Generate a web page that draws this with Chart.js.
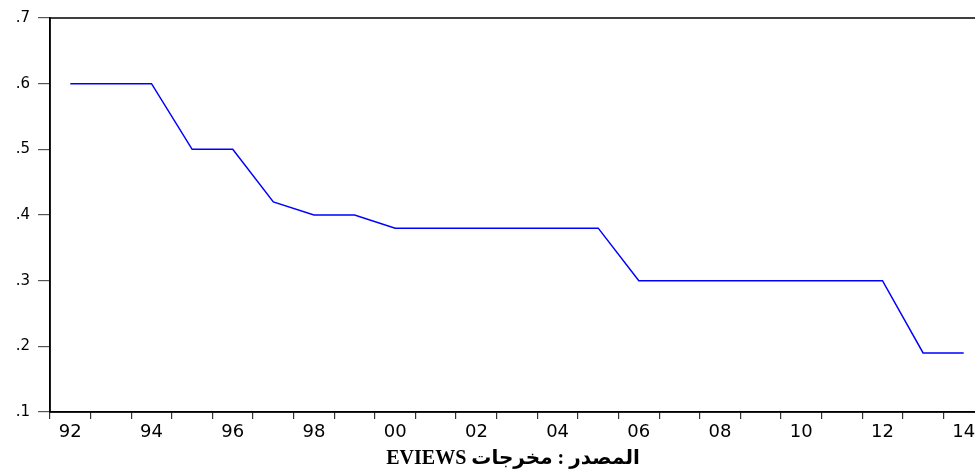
<!DOCTYPE html>
<html>
<head>
<meta charset="utf-8">
<script src="https://cdn.jsdelivr.net/npm/chart.js@4/dist/chart.umd.min.js"></script>
<style>
    html, body { margin: 0; padding: 0; background: #fff; overflow: hidden; }
    #wrap { position: relative; width: 975px; height: 475px; overflow: hidden; }
    #chart { position: absolute; left: 0; top: 0; }
    #source {
        position: absolute; left: 313px; top: 445px; width: 400px;
        text-align: center; font: bold 20px "Liberation Serif", "DejaVu Sans", serif;
        color: #000;
    }
</style>
</head>
<body>
<div id="wrap">
    <canvas id="chart" width="1000" height="475"></canvas>
    <div id="source" dir="rtl">المصدر : مخرجات EVIEWS</div>
</div>
<script>
// Years (two-digit labels as in EViews output)
const years = ['92', '93', '94', '95', '96', '97', '98', '99', '00', '01', '02', '03',
               '04', '05', '06', '07', '08', '09', '10', '11', '12', '13', '14'];
const values = [0.60, 0.60, 0.60, 0.50, 0.50, 0.42, 0.40, 0.40, 0.38, 0.38, 0.38, 0.38,
                0.38, 0.38, 0.30, 0.30, 0.30, 0.30, 0.30, 0.30, 0.30, 0.19, 0.19];
const yTicks = [0.1, 0.2, 0.3, 0.4, 0.5, 0.6, 0.7];

// --- box round the plot (top + right edges) ---
const frame = {
    id: 'frame',
    afterDraw(chart) {
        const a = chart.chartArea;
        const ctx = chart.ctx;
        ctx.save();
        ctx.strokeStyle = '#000';
        ctx.lineWidth = 1.5;
        ctx.strokeRect(a.left, a.top, a.right - a.left, a.bottom - a.top);
        ctx.restore();
    }
};

new Chart(document.getElementById('chart'), {
    type: 'line',
    data: {
        labels: years,
        datasets: [{
            data: values,
            borderColor: '#0000ff',
            borderWidth: 1.5,
            pointRadius: 0,
            tension: 0,
            fill: false
        }]
    },
    options: {
        responsive: false,
        animation: false,
        layout: { padding: { top: 18, right: 16, bottom: 23, left: 0 } },
        plugins: { legend: { display: false }, tooltip: { enabled: false } },
        scales: {
            x: {
                offset: true,
                grid: { offset: true, drawOnChartArea: false, drawTicks: true, tickLength: 7, color: '#333', lineWidth: 1.2 },
                border: { color: '#000', width: 1.5 },
                ticks: {
                    autoSkip: false, maxRotation: 0, padding: 3, color: '#000',
                    font: { family: '"DejaVu Sans", sans-serif', size: 18 },
                    callback: function (v, i) { return i % 2 === 0 ? years[i] : ''; }
                },
                afterFit: function (scale) { scale.height = 40; }
            },
            y: {
                min: 0.1, max: 0.7,
                afterBuildTicks: function (scale) { scale.ticks = yTicks.map(v => ({ value: v })); },
                grid: { drawOnChartArea: false, drawTicks: true, tickLength: 12, color: '#555', lineWidth: 1.2 },
                border: { color: '#000', width: 1.5 },
                ticks: {
                    padding: 8, color: '#000',
                    font: { family: '"DejaVu Sans", sans-serif', size: 15 },
                    callback: function (v) { return '.' + Math.round(v * 10); }
                },
                afterFit: function (scale) { scale.width = 50; }
            }
        }
    },
    plugins: [frame]
});
</script>
</body>
</html>
